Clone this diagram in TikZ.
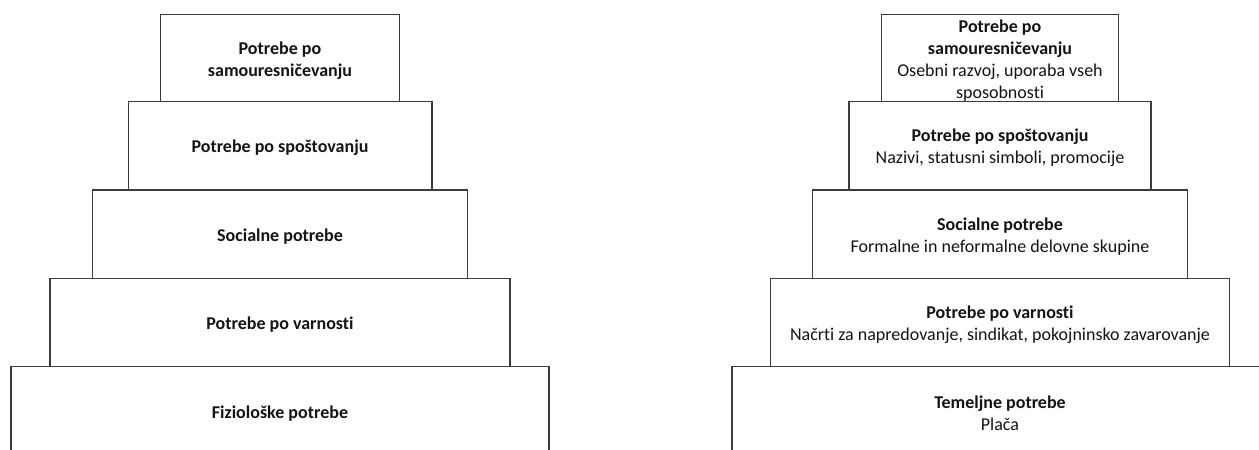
\documentclass[tikz,border=0pt]{standalone}
\usepackage{fontspec}
\setmainfont{Carlito}[Ligatures=NoCommon]
\definecolor{boxline}{RGB}{60,60,60}
\definecolor{txt}{RGB}{20,20,20}
\begin{document}
\begin{tikzpicture}[x=1pt,y=-1pt,
  level/.style={draw=boxline, line width=1.3pt, rectangle, inner sep=0pt},
  lbl/.style={inner sep=0pt, align=center, text=txt, font=\fontsize{18}{22}\selectfont},
]
\clip (0,0) rectangle (1259,450);
\fill[white] (0,0) rectangle (1259,450);
% left pyramid
\node[level, minimum width=538, minimum height=88.3] (l5) at (280,410.85) {};
\node[level, minimum width=460, minimum height=88.4] (l4) at (280,322.5) {};
\node[level, minimum width=374.6, minimum height=88.3] (l3) at (280,234.15) {};
\node[level, minimum width=303.7, minimum height=88.7] (l2) at (280,145.65) {};
\node[level, minimum width=239, minimum height=86.6] (l1) at (280,58) {};
\node[lbl] (l5t) at ([yshift=-2.5pt]l5.center) {\textbf{Fiziološke potrebe}};
\node[lbl] (l4t) at ([yshift=-2.5pt]l4.center) {\textbf{Potrebe po varnosti}};
\node[lbl] (l3t) at ([yshift=-2.5pt]l3.center) {\textbf{Socialne potrebe}};
\node[lbl] (l2t) at ([yshift=-2.5pt]l2.center) {\textbf{Potrebe po spoštovanju}};
\node[lbl] (l1t) at ([yshift=-2.5pt]l1.center) {\textbf{Potrebe po}\\\textbf{samouresničevanju}};
% right pyramid
\node[level, minimum width=536, minimum height=88.3] (r5) at (1000,410.85) {};
\node[level, minimum width=459.5, minimum height=88.4] (r4) at (1000,322.5) {};
\node[level, minimum width=375, minimum height=88.3] (r3) at (1000,234.15) {};
\node[level, minimum width=302, minimum height=88.7] (r2) at (1000,145.65) {};
\node[level, minimum width=237.3, minimum height=86.6] (r1) at (1000,58) {};
\node[lbl] (r5t) at ([yshift=-2.5pt]r5.center) {\textbf{Temeljne potrebe}\\Plača};
\node[lbl] (r4t) at ([yshift=-2.5pt]r4.center) {\textbf{Potrebe po varnosti}\\Načrti za napredovanje, sindikat, pokojninsko zavarovanje};
\node[lbl] (r3t) at ([yshift=-2.5pt]r3.center) {\textbf{Socialne potrebe}\\Formalne in neformalne delovne skupine};
\node[lbl] (r2t) at ([yshift=-2.5pt]r2.center) {\textbf{Potrebe po spoštovanju}\\Nazivi, statusni simboli, promocije};
\node[lbl] (r1t) at ([yshift=-3pt]r1.center) {\textbf{Potrebe po}\\\textbf{samouresničevanju}\\Osebni razvoj, uporaba vseh\\sposobnosti};
\end{tikzpicture}
\end{document}
